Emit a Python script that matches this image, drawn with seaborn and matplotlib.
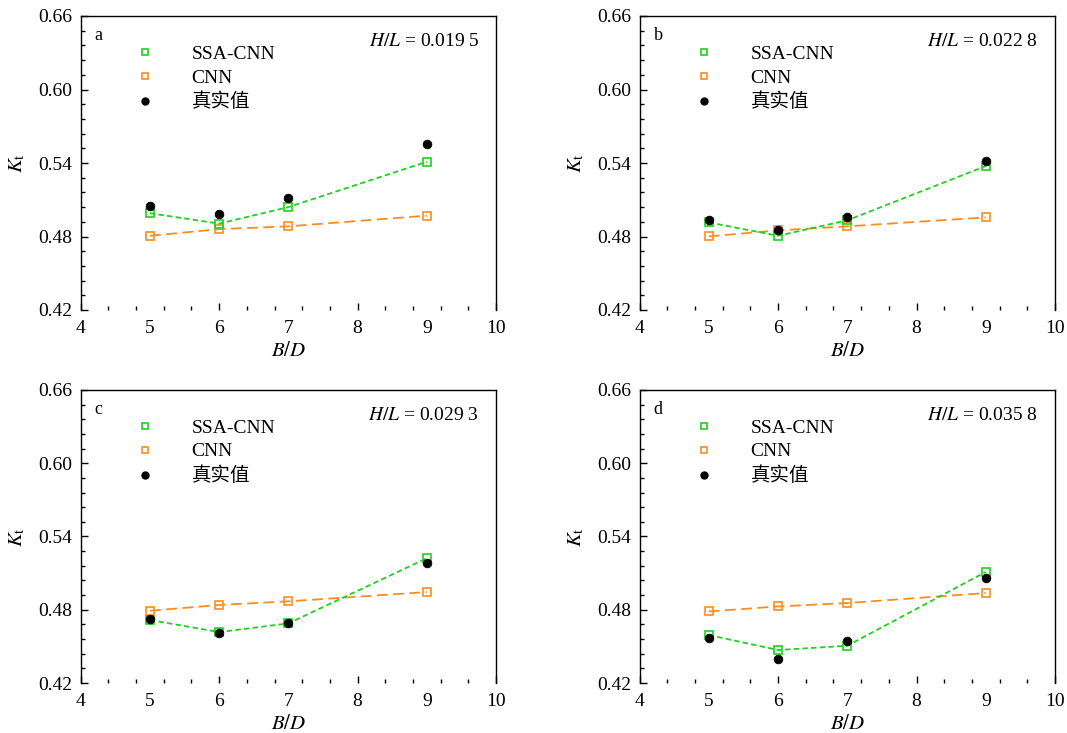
import numpy as np
import pandas as pd
import matplotlib
matplotlib.use("Agg")
import matplotlib.pyplot as plt
from matplotlib.lines import Line2D
from matplotlib.ticker import MultipleLocator
import seaborn as sns

# ---- data ----
bd = [5, 6, 7, 9]
panel_tags = ["a", "b", "c", "d"]
hl_labels = ["0.019 5", "0.022 8", "0.029 3", "0.035 8"]
series_names = ["SSA-CNN", "CNN", "真实值"]

ssa_a = [0.4990, 0.4905, 0.5040, 0.5410]
cnn_a = [0.4806, 0.4860, 0.4883, 0.4970]
true_a = [0.5045, 0.4980, 0.5115, 0.5557]

ssa_b = [0.4915, 0.4806, 0.4932, 0.5375]
cnn_b = [0.4801, 0.4850, 0.4883, 0.4956]
true_b = [0.4932, 0.4856, 0.4959, 0.5415]

ssa_c = [0.4716, 0.4617, 0.4688, 0.5222]
cnn_c = [0.4792, 0.4839, 0.4869, 0.4945]
true_c = [0.4722, 0.4611, 0.4688, 0.5186]

ssa_d = [0.4593, 0.4470, 0.4505, 0.5110]
cnn_d = [0.4786, 0.4827, 0.4855, 0.4937]
true_d = [0.4566, 0.4396, 0.4547, 0.5059]

x_ticks = [4, 5, 6, 7, 8, 9, 10]
y_ticks = [0.42, 0.48, 0.54, 0.60, 0.66]

sns.set_theme(style="ticks")
plt.rcParams["font.family"] = ["Liberation Serif", "Noto Sans CJK SC"]
plt.rcParams["mathtext.fontset"] = "stix"
plt.rcParams["axes.unicode_minus"] = False
for k in ["text.color", "axes.labelcolor", "xtick.color", "ytick.color",
          "axes.edgecolor"]:
    plt.rcParams[k] = "black"

GREEN = "#1ed21e"
ORANGE = "#ff8c1f"
BLACK = "#000000"

fig = plt.figure(figsize=(10.67, 7.33), dpi=100)
W, H = 1067, 733
boxes = [(80.7, 16, 496, 310), (639.5, 16, 1055, 310),
         (80.7, 390, 496, 683), (639.5, 390, 1055, 683)]

data = [(ssa_a, cnn_a, true_a), (ssa_b, cnn_b, true_b),
        (ssa_c, cnn_c, true_c), (ssa_d, cnn_d, true_d)]

for i, (l, t, r, b) in enumerate(boxes):
    ax = fig.add_axes([l / W, 1 - b / H, (r - l) / W, (b - t) / H])
    ssa, cnn, tru = data[i]
    df = pd.DataFrame({"x": bd, "ssa": ssa, "cnn": cnn, "true": tru})
    sns.lineplot(data=df, x="x", y="cnn", ax=ax, color=ORANGE, lw=1.3,
                 linestyle=(0, (6, 3)), marker="s", markersize=6,
                 markerfacecolor="none", markeredgecolor=ORANGE,
                 markeredgewidth=1.2)
    sns.lineplot(data=df, x="x", y="ssa", ax=ax, color=GREEN, lw=1.3,
                 linestyle=(0, (3, 1.8)), marker="s", markersize=6,
                 markerfacecolor="none", markeredgecolor=GREEN,
                 markeredgewidth=1.2)
    sns.scatterplot(data=df, x="x", y="true", ax=ax, color=BLACK, s=40,
                    marker="o", edgecolor=BLACK, linewidth=0.5, zorder=5)

    ax.set_xlim(4, 10)
    ax.set_ylim(0.42, 0.66)
    ax.set_xticks(x_ticks)
    ax.set_xticklabels([str(v) for v in x_ticks])
    ax.xaxis.set_minor_locator(MultipleLocator(0.4))
    ax.set_yticks(y_ticks)
    ax.set_yticklabels([f"{v:.2f}" for v in y_ticks])
    ax.yaxis.set_minor_locator(MultipleLocator(0.012))
    ax.tick_params(axis="x", which="major", direction="in", length=0,
                   labelsize=14, pad=7)
    ax.tick_params(axis="x", which="minor", direction="in", length=3,
                   width=1)
    ax.tick_params(axis="y", which="major", direction="in", length=5,
                   width=1, labelsize=14, pad=6)
    ax.tick_params(axis="y", which="minor", direction="in", length=3,
                   width=1)
    sec = ax.secondary_xaxis("bottom")
    sec.set_xticks([4, 6, 8, 10])
    sec.set_xticklabels([])
    sec.tick_params(direction="in", length=5, width=1)
    sec.spines["bottom"].set_visible(False)

    for s in ["left", "right", "top"]:
        ax.spines[s].set_visible(True)
        ax.spines[s].set_color("black")
        ax.spines[s].set_linewidth(1.0)
    ax.spines["bottom"].set_visible(False)

    ax.set_xlabel(r"$B/D$", fontsize=15, labelpad=4)
    ax.set_ylabel(r"$K_\mathrm{t}$", fontsize=15, labelpad=8)

    ax.text(0.034, 0.932, panel_tags[i], transform=ax.transAxes,
            fontsize=13, va="center", ha="left")
    ax.text(0.96, 0.912, r"$H/L$ = " + hl_labels[i], transform=ax.transAxes,
            fontsize=14, va="center", ha="right")

    handles = [
        Line2D([], [], linestyle="none", marker="s", markersize=5,
               markerfacecolor="none", markeredgecolor=GREEN,
               markeredgewidth=1.2),
        Line2D([], [], linestyle="none", marker="s", markersize=5,
               markerfacecolor="none", markeredgecolor=ORANGE,
               markeredgewidth=1.2),
        Line2D([], [], linestyle="none", marker="o", markersize=5,
               markerfacecolor=BLACK, markeredgecolor=BLACK),
    ]
    ax.legend(handles, series_names, loc="upper left",
              bbox_to_anchor=(0.108, 0.901), frameon=False, fontsize=14,
              handlelength=2.0, handletextpad=1.4, labelspacing=0.32,
              borderpad=0, borderaxespad=0)

fig.savefig("out.png", dpi=100)
